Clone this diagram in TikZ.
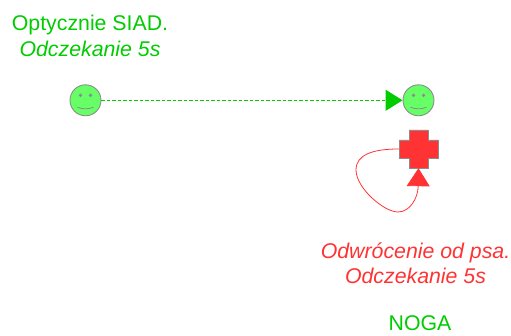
\documentclass[tikz,border=0pt]{standalone}
\usepackage{fontspec}
\setmainfont{Liberation Sans}
\usetikzlibrary{arrows.meta,calc}
\definecolor{gtxt}{RGB}{0,204,0}
\definecolor{rtxt}{RGB}{255,51,51}
\definecolor{face}{RGB}{102,255,102}
\definecolor{edge}{RGB}{140,140,140}
\tikzset{
  smiley/.style={circle,draw=edge,fill=face,line width=0.9pt,minimum size=31pt,inner sep=0pt},
  crossbox/.style={minimum width=39pt,minimum height=38pt,inner sep=0pt},
  greenlab/.style={text=gtxt,font=\fontsize{21.3}{25.5}\selectfont,align=center},
  redlab/.style={text=rtxt,font=\fontsize{21.3}{25.5}\selectfont,align=center},
  greenlink/.style={draw=gtxt,line width=1.1pt,dash pattern=on 3.5pt off 2pt,-{Triangle[length=17pt,width=21pt,fill=gtxt]}},
  redlink/.style={draw=rtxt,line width=0.8pt,-{Triangle[length=18pt,width=23pt,fill=rtxt]}},
}
\newcommand{\smileyface}[1]{%
  \fill[edge] ($(#1)+(-5,-5)$) circle (1.8pt);
  \fill[edge] ($(#1)+(5,-5)$) circle (1.8pt);
  \draw[edge,line width=0.8pt] ($(#1)+(-8,7)$) .. controls ($(#1)+(-3,9)$) and ($(#1)+(3,9)$) .. ($(#1)+(8,7)$);
}
\begin{document}
\begin{tikzpicture}[x=1pt,y=-1pt]
\useasboundingbox (0,0) rectangle (511,336);
\node[smiley] (a) at (85.5,100.3) {};
\node[smiley] (b) at (418.5,100.3) {};
\smileyface{a}
\smileyface{b}
\node[crossbox] (c) at (418.5,149) {};
\draw[edge,fill=rtxt,line width=0.9pt]
  (399,140) -- (409,140) -- (409,130) -- (428,130) -- (428,140) -- (438,140)
  -- (438,158) -- (428,158) -- (428,168) -- (409,168) -- (409,158) -- (399,158) -- cycle;
\draw[greenlink] (a.east) -- (b.west);
\draw[redlink] (c.west) .. controls (372,149) and (356,155) .. (356,170)
  .. controls (356,188) and (384,212) .. (398,212)
  .. controls (410,212) and (418,198) .. (c.south);
\node[greenlab] (t1) at (90,36) {Optycznie SIAD.\\\textit{Odczekanie 5s}};
\node[redlab] (t2) at (415.5,263.5) {\textit{Odwrócenie od psa.}\\\textit{Odczekanie 5s}};
\node[greenlab] (t3) at (420,323.5) {NOGA};
\end{tikzpicture}
\end{document}
